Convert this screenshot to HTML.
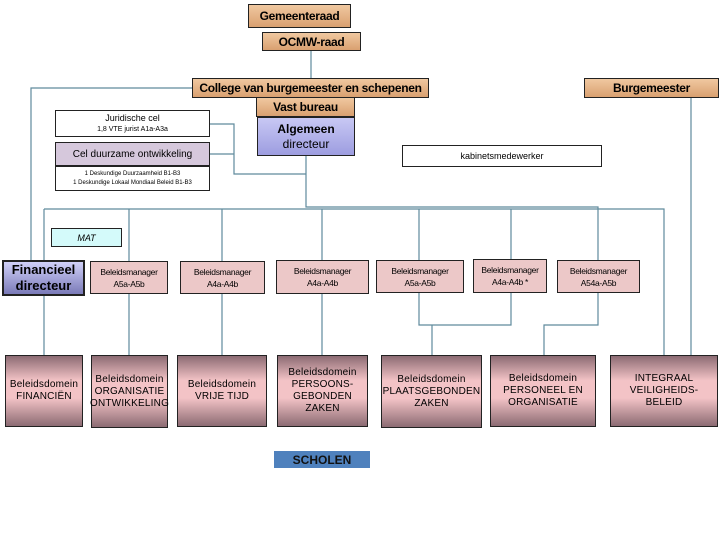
<!DOCTYPE html>
<html><head><meta charset="utf-8"><style>
body{margin:0;width:720px;height:540px;background:#fff;position:relative;overflow:hidden;font-family:"Liberation Sans",sans-serif}
.b{position:absolute;box-sizing:border-box;border:1px solid #222;display:flex;align-items:center;justify-content:center;text-align:center;color:#000}
.o{background:linear-gradient(#f0c8a0,#d9a070);font-weight:bold;font-size:12px;letter-spacing:-0.3px}
.w{background:#fff;font-size:10px;line-height:13px}
.p{background:#ecc8c8;font-size:8.5px;line-height:12px;letter-spacing:-0.3px}
.d{background:linear-gradient(#8c6b73,#f3c3c6 35%,#f3c3c6 60%,#8c6b73);font-size:10px;line-height:12px;letter-spacing:0.2px}
svg{position:absolute;left:0;top:0}
</style></head><body>
<svg width="720" height="540"><g stroke="#5f8a9c" stroke-width="1.2" fill="none">
<path d="M311 51V78"/>
<path d="M192 88H31V260"/>
<path d="M210 124H234V174H306"/>
<path d="M210 154H234"/>
<path d="M306 156V207H598V260"/>
<path d="M44 209H664V355"/>
<path d="M44 209V260M129 209V261M222 209V261M322 209V261M419 209V260M511 209V259"/>
<path d="M691 98V355"/>
<path d="M44 296V355M129 294V355M222 294V355M322 294V355"/>
<path d="M419 293V325H511V293M432 325V355"/>
<path d="M598 293V325H544V355"/>
</g></svg>
<div class="b o" style="left:248px;top:4px;width:103px;height:24px">Gemeenteraad</div>
<div class="b o" style="left:262px;top:32px;width:99px;height:19px">OCMW-raad</div>
<div class="b o" style="left:192px;top:78px;width:237px;height:20px">College van burgemeester en schepenen</div>
<div class="b o" style="left:584px;top:78px;width:135px;height:20px">Burgemeester</div>
<div class="b o" style="left:256px;top:97px;width:99px;height:20px">Vast bureau</div>
<div class="b" style="left:257px;top:117px;width:98px;height:39px;background:linear-gradient(#c8c8f4,#9d9de0);font-size:12px;line-height:15px;flex-direction:column"><b>Algemeen</b><span>directeur</span></div>
<div class="b w" style="left:55px;top:110px;width:155px;height:27px;flex-direction:column;font-size:9px;line-height:11px"><span>Juridische cel</span><span style="font-size:7px">1,8 VTE jurist A1a-A3a</span></div>
<div class="b" style="left:55px;top:142px;width:155px;height:24px;background:#d6c8dc;font-size:10px">Cel duurzame ontwikkeling</div>
<div class="b w" style="left:55px;top:166px;width:155px;height:25px;font-size:6px;line-height:9px;flex-direction:column"><span>1 Deskundige Duurzaamheid B1-B3</span><span>1 Deskundige Lokaal Mondiaal Beleid B1-B3</span></div>
<div class="b w" style="left:402px;top:145px;width:200px;height:22px;font-size:9px">kabinetsmedewerker</div>
<div class="b" style="left:51px;top:228px;width:71px;height:19px;background:#d4fafa;font-size:9px;font-style:italic">MAT</div>
<div class="b" style="left:2px;top:260px;width:83px;height:36px;background:linear-gradient(#d0d0f8,#7a7ab8);font-weight:bold;font-size:13px;line-height:16px;border-width:2px">Financieel<br>directeur</div>
<div class="b p" style="left:90px;top:261px;width:78px;height:33px">Beleidsmanager<br>A5a-A5b</div>
<div class="b p" style="left:180px;top:261px;width:85px;height:33px">Beleidsmanager<br>A4a-A4b</div>
<div class="b p" style="left:276px;top:260px;width:93px;height:34px">Beleidsmanager<br>A4a-A4b</div>
<div class="b p" style="left:376px;top:260px;width:88px;height:33px">Beleidsmanager<br>A5a-A5b</div>
<div class="b p" style="left:473px;top:259px;width:74px;height:34px">Beleidsmanager<br>A4a-A4b *</div>
<div class="b p" style="left:557px;top:260px;width:83px;height:33px">Beleidsmanager<br>A54a-A5b</div>
<div class="b d" style="left:5px;top:355px;width:78px;height:72px">Beleidsdomein<br>FINANCIËN</div>
<div class="b d" style="left:91px;top:355px;width:77px;height:73px">Beleidsdomein<br>ORGANISATIE<br>ONTWIKKELING</div>
<div class="b d" style="left:177px;top:355px;width:90px;height:72px">Beleidsdomein<br>VRIJE TIJD</div>
<div class="b d" style="left:277px;top:355px;width:91px;height:72px">Beleidsdomein<br>PERSOONS-<br>GEBONDEN<br>ZAKEN</div>
<div class="b d" style="left:381px;top:355px;width:101px;height:73px">Beleidsdomein<br>PLAATSGEBONDEN<br>ZAKEN</div>
<div class="b d" style="left:490px;top:355px;width:106px;height:72px">Beleidsdomein<br>PERSONEEL EN<br>ORGANISATIE</div>
<div class="b d" style="left:610px;top:355px;width:108px;height:72px">INTEGRAAL<br>VEILIGHEIDS-<br>BELEID</div>
<div class="b" style="left:274px;top:451px;width:96px;height:17px;background:#4f81bd;border:none;font-weight:bold;font-size:12px;color:#111">SCHOLEN</div>
</body></html>
